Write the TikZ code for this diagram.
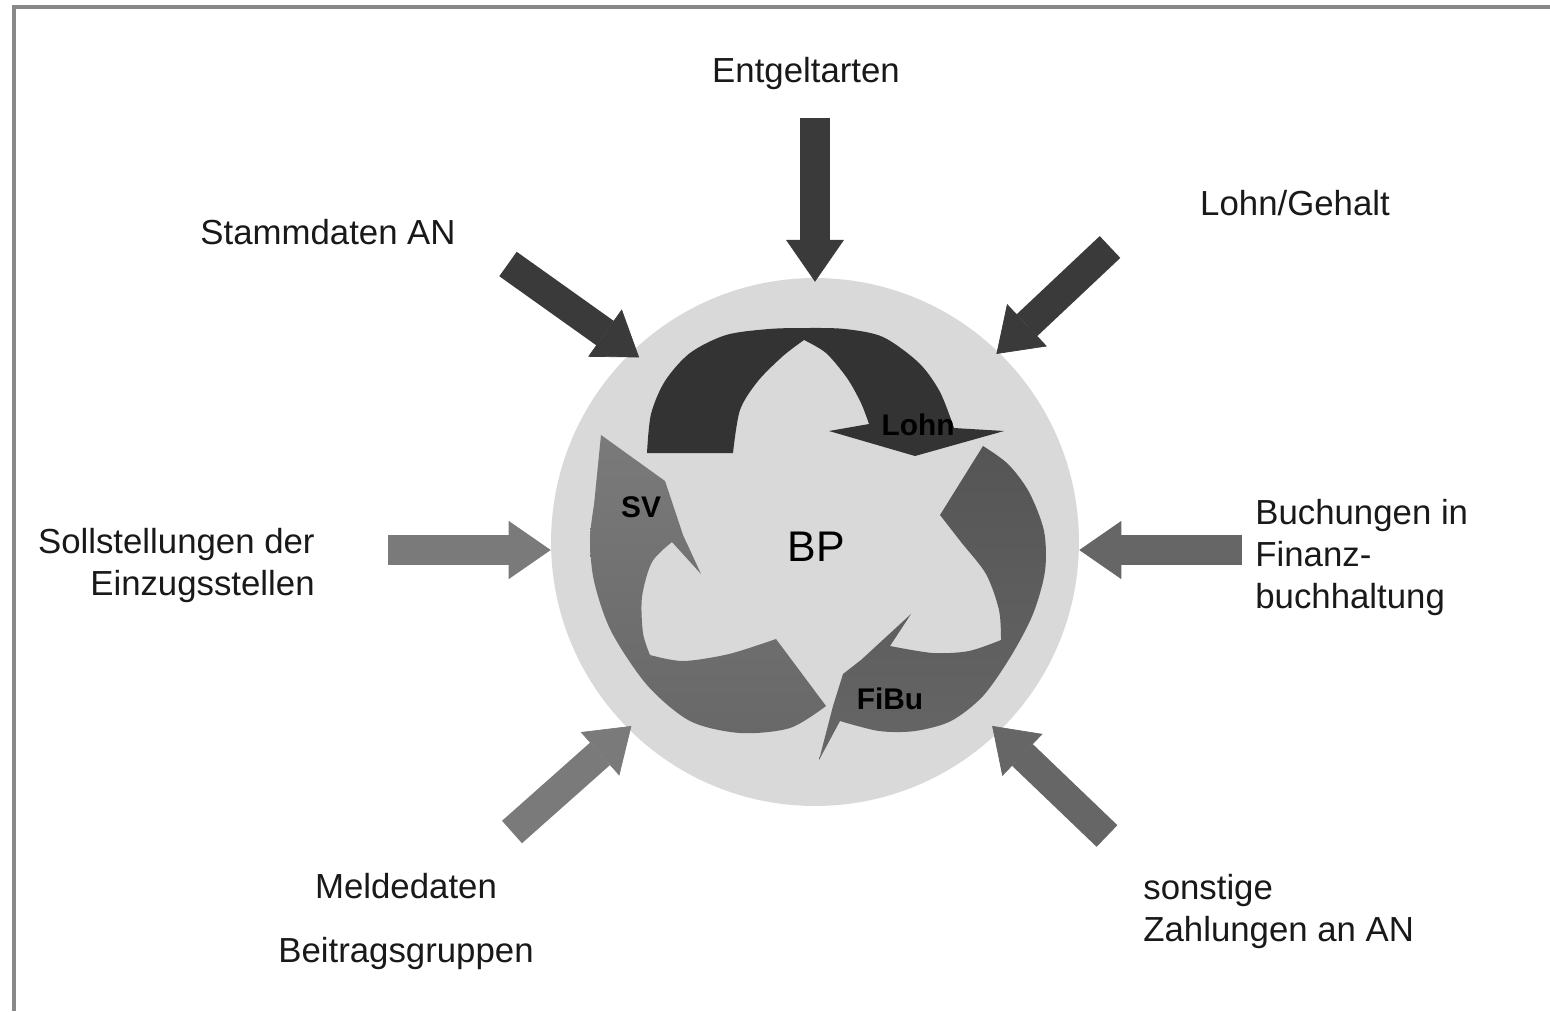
\documentclass[tikz,border=0pt]{standalone}
\usepackage{fontspec}
\setmainfont{Liberation Sans}
\usepackage{tikz}
\usetikzlibrary{arrows.meta}
\definecolor{framegray}{HTML}{888888}
\definecolor{discgray}{HTML}{D9D9D9}
\definecolor{darkarrow}{HTML}{3A3A3A}
\definecolor{midarrow}{HTML}{666666}
\definecolor{lightarrow}{HTML}{7A7A7A}
\definecolor{lohnfill}{HTML}{333333}
\definecolor{fibutop}{HTML}{555555}
\definecolor{fibubottom}{HTML}{666666}
\definecolor{svtop}{HTML}{7A7A7A}
\definecolor{svbottom}{HTML}{686868}
\tikzset{inarrow/.style = {line width=0.6cm,
                           -{Triangle[length=0.84cm, width=1.16cm, line width=0.4pt]}}}
\tikzset{sidetext/.style = {font=\fontsize{19.8}{23.8}\selectfont, text=black!90, inner sep=0pt}}
\tikzset{cycletext/.style = {font=\fontsize{17}{20}\selectfont\bfseries, inner sep=0pt}}

\begin{document}
\begin{tikzpicture}[x=0.02cm, y=-0.02cm]
    \useasboundingbox (0,0) rectangle (1550,1011);
    \draw [framegray, line width=2.3pt] (14,1011) -- (14,7) -- (1550,7);

    \node [circle, fill=discgray, minimum size=10.56cm, inner sep=0pt] (disc) at (815,542) {};

    \fill [lohnfill] plot [smooth] coordinates {(647,453) (651,414) (665,381) (690,353) (726,335)
                                                (769,329) (806,328) (845,329) (883,337) (919,363)
                                                (940,392) (954,428)}
      -- (1004,431) -- (915,456) -- (829,431) -- (869,424)
      -- plot [smooth] coordinates {(869,424) (861,403) (847,378) (826,353) (804,340)}
      -- plot [smooth] coordinates {(804,340) (783,356) (758,381) (740,410) (733,453)}
      -- cycle;

    \shade [top color=fibutop, bottom color=fibubottom] (983,446) -- (940,515)
      -- plot [smooth] coordinates {(940,515) (961,542) (986,574) (999,610) (1001,640)}
      -- plot [smooth] coordinates {(1001,640) (969,651) (933,653) (890,646)}
      -- (911,614) -- (861,660) -- (843,674) -- (833,706) -- (819,760) -- (840,721)
      -- plot [smooth] coordinates {(840,721) (879,731) (915,731) (951,721) (983,696)
                                    (1011,656) (1033,614) (1045,571) (1044,531) (1029,492)
                                    (1008,464) (983,446)}
      -- cycle;

    \shade [top color=svtop, bottom color=svbottom] (776,639) -- (826,706)
      -- plot [smooth] coordinates {(826,706) (790,728) (740,733) (690,721) (647,685)
                                    (611,631) (594,581) (590,539) (594,505)}
      -- (601,435) -- (665,481) -- (683,535) -- (701,574) -- (672,542)
      -- plot [smooth] coordinates {(672,542) (652,562) (642,597) (643,633) (650,655)}
      -- plot [smooth] coordinates {(650,655) (683,661) (729,654) (776,639)}
      -- cycle;

    \node [cycletext] (lohn) at (918,425) {Lohn};
    \node [cycletext] (sv) at (641,507) {SV};
    \node [cycletext] (fibu) at (890,699) {FiBu};
    \node [font=\fontsize{24.4}{29}\selectfont, inner sep=0pt] (bp) at (816,547) {BP};

    \node [sidetext, anchor=base] (entgelt) at (806,82) {Entgeltarten};
    \node [sidetext, anchor=base] (stamm) at (328,244) {Stammdaten AN};
    \node [sidetext, anchor=base] (gehalt) at (1295,215) {Lohn/Gehalt};
    \node [sidetext, align=right, anchor=north east] (soll) at (315,528) {Sollstellungen der\\Einzugsstellen};
    \node [sidetext, align=left, anchor=north west] (buchung) at (1255,499) {Buchungen in\\Finanz-\\buchhaltung};
    \node [sidetext, align=center, anchor=north] (melde) at (406,873) {Meldedaten\\[12.5pt]Beitragsgruppen};
    \node [sidetext, align=left, anchor=north west] (sonst) at (1143,874) {sonstige\\Zahlungen an AN};

    \coordinate (entgeltTail) at (815,118);
    \coordinate (stammTail) at (508,264);
    \coordinate (gehaltTail) at (1110,247);
    \coordinate (sollTail) at (388,550);
    \coordinate (buchTail) at (1242,550);
    \coordinate (meldeTail) at (512,832);
    \coordinate (sonstTail) at (1107,836);

    \draw [inarrow, darkarrow, shorten >=-2.3pt] (entgeltTail) -- (disc.90);
    \draw [inarrow, darkarrow, shorten >=-5.4pt] (stammTail) -- (disc.134.4);
    \draw [inarrow, darkarrow, shorten >=-1.7pt] (gehaltTail) -- (disc.46.4);
    \draw [inarrow, lightarrow] (sollTail) -- (disc.west |- sollTail);
    \draw [inarrow, midarrow] (buchTail) -- (disc.east |- buchTail);
    \draw [inarrow, lightarrow, shorten >=-2.5pt] (meldeTail) -- (disc.225.9);
    \draw [inarrow, midarrow, shorten >=-5.1pt] (sonstTail) -- (disc.314.8);
\end{tikzpicture}
\end{document}
